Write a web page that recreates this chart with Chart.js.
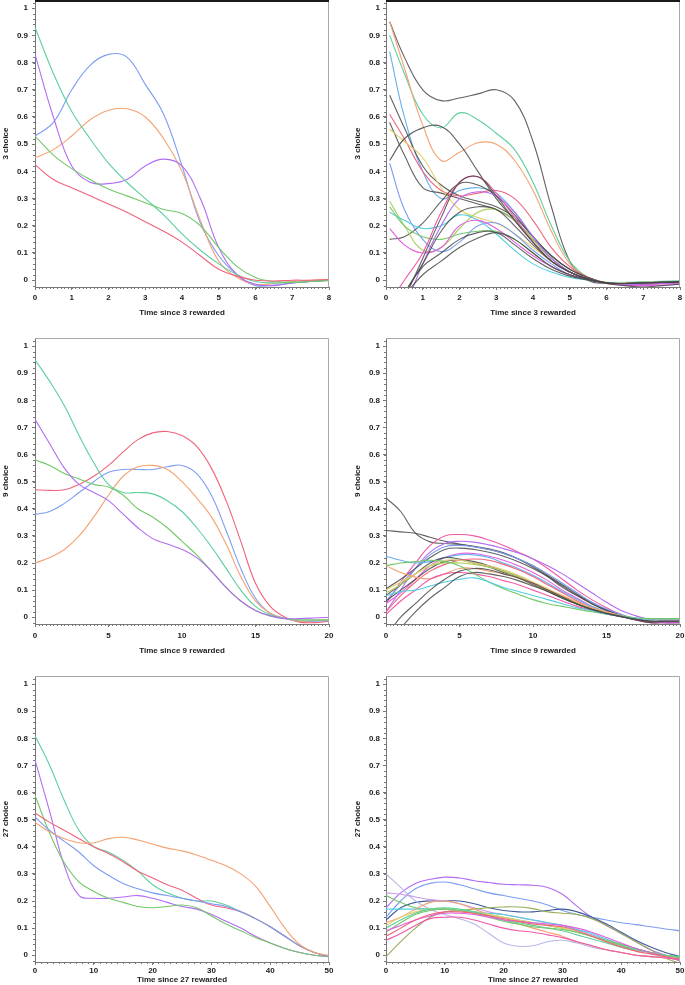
<!DOCTYPE html>
<html><head><meta charset="utf-8">
<script src="https://cdn.jsdelivr.net/npm/chart.js@4.4.0/dist/chart.umd.min.js"></script>
<style>
html,body{margin:0;padding:0;background:#fff;}
#wrap{position:relative;width:685px;height:985px;overflow:hidden;background:#fff;}
canvas{position:absolute;display:block;}
</style></head><body>
<div id="wrap">
<canvas id="c1" width="343" height="330" style="left:0;top:0"></canvas>
<canvas id="c2" width="342" height="330" style="left:343px;top:0"></canvas>
<canvas id="c3" width="343" height="330" style="left:0;top:330px"></canvas>
<canvas id="c4" width="342" height="330" style="left:343px;top:330px"></canvas>
<canvas id="c5" width="343" height="325" style="left:0;top:660px"></canvas>
<canvas id="c6" width="342" height="325" style="left:343px;top:660px"></canvas>
</div>
<script>
// ---------- x positions ----------
const x3  = [0,0.5,1,1.5,2,2.5,3,3.5,4,4.5,5,5.5,6,6.5,7,7.5,8];
const x3r = [0.1,0.5,1,1.5,2,2.5,3,3.5,4,4.5,5,5.5,6,6.5,7,7.5,8];
const x9  = [0,1,2,3,4,5,6,7,8,9,10,11,12,13,14,15,16,17,18,19,20];
const x27 = [0,2.5,5,7.5,10,12.5,15,17.5,20,22.5,25,27.5,30,32.5,35,37.5,40,42.5,45,47.5,50];

// ---------- tick labels ----------
const yTicks = [0,0.1,0.2,0.3,0.4,0.5,0.6,0.7,0.8,0.9,1];
const xTicks3 = [0,1,2,3,4,5,6,7,8];
const xTicks9 = [0,5,10,15,20];
const xTicks27 = [0,10,20,30,40,50];

// ---------- panel 1: 3 choice (group means) ----------
const g3Blue   = [0.53,0.58,0.70,0.79,0.83,0.82,0.72,0.61,0.42,0.21,0.09,0.02,-0.02,-0.018,-0.01,-0.005,0];
const g3Orange = [0.45,0.48,0.53,0.59,0.625,0.63,0.60,0.52,0.40,0.22,0.07,0.01,-0.015,-0.012,-0.005,0,0.002];
const g3Purple = [0.83,0.60,0.42,0.36,0.355,0.37,0.42,0.445,0.42,0.30,0.12,0.02,-0.015,-0.02,-0.01,-0.005,0];
const g3Teal   = [0.93,0.76,0.62,0.52,0.43,0.36,0.30,0.24,0.17,0.11,0.06,0.02,-0.005,-0.01,-0.008,-0.004,0];
const g3Green  = [0.53,0.46,0.41,0.37,0.335,0.31,0.285,0.26,0.245,0.20,0.12,0.05,0.01,-0.005,-0.008,-0.005,-0.002];
const g3Red    = [0.425,0.37,0.34,0.31,0.28,0.25,0.215,0.18,0.14,0.09,0.04,0.015,0,-0.003,0,0,0.003];

// ---------- panel 2: 3 choice (individuals) ----------
const i3GrayTop  = [0.95,0.82,0.70,0.66,0.67,0.685,0.70,0.66,0.51,0.27,0.07,0.00,-0.012,-0.012,-0.01,-0.007,-0.004];
const i3Teal     = [0.90,0.76,0.61,0.56,0.615,0.59,0.54,0.48,0.36,0.20,0.07,0.01,-0.008,-0.008,-0.006,-0.004,-0.002];
const i3Orange   = [0.95,0.78,0.57,0.44,0.47,0.505,0.50,0.44,0.33,0.18,0.06,0.01,-0.012,-0.014,-0.01,-0.008,-0.005];
const i3Sky      = [0.84,0.60,0.40,0.30,0.33,0.34,0.32,0.25,0.16,0.08,0.03,0.005,-0.01,-0.01,-0.008,-0.006,-0.004];
const i3GrayA    = [0.68,0.56,0.42,0.35,0.31,0.29,0.27,0.23,0.16,0.09,0.04,0.01,-0.01,-0.014,-0.012,-0.01,-0.008];
const i3Red      = [0.61,0.52,0.40,0.33,0.31,0.32,0.33,0.30,0.22,0.12,0.05,0.01,-0.01,-0.015,-0.015,-0.012,-0.01];
const i3GrayB    = [0.58,0.46,0.34,0.32,0.30,0.28,0.26,0.22,0.15,0.08,0.03,0.005,-0.01,-0.012,-0.01,-0.008,-0.006];
const i3Yellow   = [0.555,0.51,0.45,0.34,0.26,0.23,0.21,0.17,0.12,0.07,0.03,0.005,-0.008,-0.01,-0.008,-0.006,-0.004];
const i3GrayRise = [0.44,0.52,0.56,0.565,0.50,0.40,0.30,0.22,0.14,0.07,0.03,0.005,-0.01,-0.012,-0.01,-0.008,-0.006];
const i3Blue     = [0.43,0.26,0.15,0.105,0.14,0.20,0.21,0.17,0.11,0.06,0.02,0.003,-0.01,-0.012,-0.01,-0.008,-0.005];
const i3GrayFlat = [0.15,0.16,0.21,0.29,0.355,0.35,0.31,0.24,0.16,0.09,0.04,0.01,-0.01,-0.012,-0.01,-0.008,-0.006];
const i3Lime     = [0.29,0.20,0.11,0.12,0.19,0.25,0.26,0.22,0.15,0.08,0.03,0.005,-0.01,-0.012,-0.01,-0.008,-0.006];
const i3Cyan     = [0.25,0.22,0.19,0.20,0.24,0.22,0.17,0.11,0.06,0.03,0.01,0.0,-0.01,-0.012,-0.01,-0.008,-0.006];
const i3Green    = [0.27,0.20,0.16,0.15,0.17,0.18,0.18,0.15,0.10,0.05,0.02,0.003,-0.01,-0.012,-0.01,-0.008,-0.006];
const i3Magenta  = [0.19,0.13,0.10,0.12,0.20,0.22,0.19,0.14,0.09,0.05,0.02,0.003,-0.012,-0.018,-0.02,-0.018,-0.015];
const i3Pink     = [-0.08,0.0,0.10,0.25,0.36,0.38,0.32,0.23,0.14,0.07,0.03,0.005,-0.01,-0.015,-0.015,-0.012,-0.01];
const i3Purple   = [-0.2,-0.1,0.06,0.20,0.30,0.325,0.31,0.25,0.16,0.08,0.03,0.005,-0.01,-0.015,-0.015,-0.012,-0.01];
const i3GrayC    = [-0.2,-0.07,0.08,0.23,0.36,0.38,0.31,0.22,0.14,0.07,0.03,0.005,-0.01,-0.012,-0.01,-0.008,-0.006];
const i3GrayD    = [-0.15,-0.05,0.06,0.18,0.25,0.27,0.26,0.20,0.13,0.07,0.03,0.005,-0.01,-0.012,-0.01,-0.008,-0.006];
const i3GrayE    = [-0.15,-0.06,0.02,0.07,0.12,0.155,0.175,0.15,0.10,0.05,0.02,0.003,-0.01,-0.012,-0.01,-0.008,-0.006];
const i3GrayF    = [-0.18,-0.05,0.05,0.10,0.15,0.175,0.175,0.13,0.08,0.04,0.015,0.0,-0.012,-0.02,-0.025,-0.02,-0.015];

// ---------- panel 3: 9 choice (group means) ----------
const g9Red    = [0.47,0.468,0.47,0.49,0.52,0.56,0.61,0.655,0.68,0.685,0.67,0.63,0.55,0.43,0.28,0.125,0.04,0.0,-0.018,-0.02,-0.015];
const g9Blue   = [0.38,0.39,0.42,0.46,0.50,0.535,0.545,0.545,0.545,0.555,0.56,0.53,0.45,0.32,0.18,0.07,0.015,-0.005,-0.015,-0.015,-0.012];
const g9Orange = [0.20,0.22,0.25,0.30,0.37,0.45,0.52,0.555,0.56,0.545,0.50,0.44,0.37,0.27,0.15,0.06,0.015,-0.005,-0.015,-0.012,-0.01];
const g9Teal   = [0.95,0.87,0.78,0.67,0.57,0.49,0.46,0.46,0.455,0.43,0.39,0.33,0.26,0.18,0.10,0.04,0.01,-0.005,-0.01,-0.01,-0.01];
const g9Green  = [0.58,0.56,0.53,0.51,0.49,0.48,0.45,0.40,0.37,0.33,0.28,0.23,0.17,0.11,0.06,0.025,0.005,-0.005,-0.01,-0.01,-0.01];
const g9Purple = [0.73,0.64,0.55,0.49,0.46,0.43,0.38,0.33,0.29,0.27,0.25,0.22,0.17,0.11,0.06,0.025,0.005,-0.005,-0.005,-0.003,0.0];

// ---------- panel 4: 9 choice (individuals) ----------
const i9GrayTop = [0.44,0.39,0.31,0.278,0.272,0.268,0.262,0.252,0.238,0.215,0.185,0.15,0.11,0.08,0.05,0.025,0.005,-0.01,-0.015,-0.015,-0.015];
const i9GrayB   = [0.32,0.315,0.31,0.295,0.28,0.27,0.26,0.25,0.235,0.215,0.19,0.155,0.12,0.085,0.055,0.028,0.008,-0.008,-0.015,-0.015,-0.015];
const i9Pink    = [0.05,0.13,0.20,0.265,0.30,0.305,0.30,0.285,0.265,0.24,0.215,0.18,0.14,0.10,0.065,0.035,0.01,-0.01,-0.02,-0.02,-0.02];
const i9Purple  = [0.02,0.10,0.18,0.24,0.272,0.28,0.277,0.267,0.253,0.237,0.215,0.19,0.16,0.125,0.09,0.055,0.025,0.005,-0.01,-0.02,-0.02];
const i9Sky     = [0.225,0.21,0.20,0.205,0.22,0.23,0.23,0.22,0.20,0.18,0.155,0.125,0.095,0.065,0.04,0.02,0.005,-0.005,-0.01,-0.012,-0.012];
const i9Orange  = [0.19,0.165,0.148,0.142,0.16,0.18,0.18,0.17,0.16,0.145,0.125,0.10,0.08,0.055,0.035,0.02,0.005,-0.005,-0.01,-0.01,-0.01];
const i9Green   = [0.19,0.20,0.205,0.21,0.205,0.19,0.16,0.13,0.105,0.085,0.065,0.05,0.04,0.03,0.02,0.012,0.005,-0.002,-0.005,-0.005,-0.005];
const i9Cyan    = [0.08,0.095,0.10,0.115,0.13,0.14,0.145,0.13,0.11,0.095,0.08,0.065,0.05,0.035,0.025,0.012,0.003,-0.005,-0.01,-0.01,-0.01];
const i9GrayC   = [0.105,0.14,0.18,0.22,0.25,0.255,0.25,0.24,0.225,0.205,0.18,0.15,0.115,0.08,0.05,0.025,0.005,-0.01,-0.02,-0.02,-0.02];
const i9GrayD   = [0.08,0.12,0.16,0.20,0.22,0.215,0.205,0.19,0.17,0.15,0.125,0.10,0.075,0.05,0.03,0.015,0.003,-0.008,-0.015,-0.015,-0.015];
const i9GrayE   = [0.06,0.10,0.14,0.18,0.205,0.21,0.20,0.185,0.165,0.145,0.12,0.095,0.07,0.048,0.028,0.013,0.002,-0.008,-0.015,-0.015,-0.015];
const i9GrayF   = [-0.07,0.0,0.05,0.10,0.14,0.17,0.18,0.175,0.16,0.145,0.125,0.10,0.075,0.05,0.03,0.015,0.003,-0.008,-0.015,-0.015,-0.015];
const i9GrayG   = [-0.1,-0.04,0.02,0.07,0.11,0.15,0.165,0.16,0.15,0.135,0.115,0.095,0.07,0.048,0.028,0.013,0.002,-0.008,-0.015,-0.015,-0.015];
const i9PinkLow = [0.01,0.06,0.10,0.14,0.16,0.165,0.16,0.15,0.135,0.12,0.10,0.08,0.06,0.04,0.025,0.012,0.003,-0.005,-0.01,-0.01,-0.01];
const i9Red     = [0.02,0.08,0.13,0.17,0.195,0.21,0.215,0.21,0.195,0.175,0.15,0.12,0.09,0.06,0.035,0.015,0.003,-0.008,-0.015,-0.015,-0.015];
const i9Blue    = [0.06,0.12,0.18,0.23,0.26,0.265,0.26,0.25,0.235,0.215,0.19,0.16,0.125,0.09,0.055,0.03,0.01,-0.005,-0.015,-0.015,-0.015];
const i9Yellow  = [0.10,0.13,0.16,0.19,0.21,0.21,0.20,0.19,0.175,0.155,0.13,0.105,0.08,0.055,0.035,0.018,0.005,-0.005,-0.01,-0.01,-0.01];
const i9Lime    = [0.09,0.12,0.16,0.19,0.20,0.20,0.195,0.185,0.17,0.15,0.125,0.10,0.075,0.05,0.03,0.015,0.003,-0.005,-0.008,-0.008,-0.008];
const i9Magenta = [0.05,0.09,0.14,0.19,0.22,0.235,0.235,0.225,0.21,0.19,0.165,0.135,0.10,0.07,0.04,0.02,0.005,-0.008,-0.015,-0.018,-0.018];

// ---------- panel 5: 27 choice (group means) ----------
const g27Teal   = [0.81,0.70,0.57,0.46,0.40,0.38,0.35,0.31,0.26,0.23,0.21,0.20,0.20,0.185,0.16,0.135,0.105,0.07,0.035,0.01,-0.005];
const g27Purple = [0.72,0.53,0.33,0.22,0.21,0.21,0.215,0.22,0.21,0.195,0.18,0.17,0.15,0.125,0.10,0.07,0.045,0.025,0.01,0.0,-0.005];
const g27Green  = [0.59,0.45,0.34,0.27,0.235,0.21,0.195,0.18,0.175,0.18,0.185,0.175,0.145,0.115,0.09,0.065,0.045,0.025,0.01,0.0,-0.005];
const g27Red    = [0.525,0.49,0.46,0.43,0.40,0.375,0.345,0.31,0.285,0.26,0.24,0.21,0.185,0.175,0.16,0.135,0.105,0.07,0.035,0.01,-0.005];
const g27Blue   = [0.51,0.46,0.42,0.38,0.33,0.295,0.265,0.245,0.23,0.22,0.21,0.20,0.19,0.18,0.16,0.135,0.105,0.07,0.035,0.01,-0.005];
const g27Orange = [0.49,0.455,0.43,0.415,0.415,0.43,0.435,0.425,0.41,0.395,0.385,0.37,0.35,0.33,0.30,0.255,0.18,0.10,0.04,0.01,0.0];

// ---------- panel 6: 27 choice (individuals) ----------
const i27Purple   = [0.175,0.23,0.265,0.28,0.288,0.285,0.275,0.268,0.262,0.26,0.258,0.25,0.225,0.18,0.14,0.11,0.08,0.05,0.02,0.0,-0.02];
const i27Blue     = [0.14,0.20,0.245,0.265,0.27,0.26,0.245,0.23,0.22,0.21,0.20,0.185,0.165,0.15,0.14,0.13,0.12,0.113,0.105,0.097,0.09];
const i27Lavender = [0.30,0.25,0.20,0.17,0.15,0.135,0.115,0.08,0.045,0.033,0.035,0.05,0.055,0.045,0.03,0.02,0.01,0.0,-0.005,-0.005,-0.005];
const i27Lilac    = [0.23,0.225,0.215,0.205,0.20,0.19,0.175,0.16,0.15,0.14,0.13,0.12,0.11,0.095,0.075,0.055,0.035,0.02,0.01,0.0,-0.01];
const i27Green    = [0.22,0.195,0.175,0.17,0.17,0.165,0.16,0.15,0.14,0.13,0.12,0.11,0.10,0.085,0.07,0.05,0.035,0.02,0.01,0.0,-0.01];
const i27Cyan     = [0.17,0.17,0.17,0.17,0.17,0.165,0.16,0.155,0.15,0.14,0.13,0.12,0.11,0.095,0.08,0.06,0.04,0.025,0.01,0.0,-0.01];
const i27Navy     = [0.13,0.175,0.195,0.20,0.20,0.20,0.19,0.175,0.165,0.16,0.16,0.165,0.17,0.16,0.14,0.115,0.085,0.055,0.03,0.01,-0.005];
const i27Olive    = [-0.005,0.05,0.10,0.14,0.16,0.165,0.17,0.175,0.178,0.178,0.172,0.16,0.155,0.15,0.135,0.11,0.08,0.05,0.02,-0.01,-0.03];
const i27Orange   = [0.12,0.14,0.17,0.195,0.20,0.19,0.17,0.15,0.13,0.115,0.10,0.085,0.07,0.05,0.035,0.02,0.01,0.0,-0.005,-0.01,-0.015];
const i27Pink     = [0.055,0.08,0.11,0.135,0.14,0.14,0.13,0.115,0.10,0.09,0.085,0.075,0.065,0.05,0.035,0.02,0.01,0.0,-0.005,-0.01,-0.015];
const i27Red      = [0.07,0.10,0.13,0.15,0.16,0.16,0.155,0.145,0.135,0.125,0.115,0.11,0.105,0.09,0.07,0.05,0.03,0.015,0.005,-0.005,-0.015];
const i27Teal     = [0.10,0.13,0.155,0.17,0.175,0.17,0.16,0.145,0.13,0.12,0.11,0.10,0.09,0.075,0.06,0.045,0.03,0.02,0.01,0.0,-0.005];
const i27Green2   = [0.085,0.12,0.15,0.165,0.17,0.165,0.155,0.14,0.125,0.115,0.105,0.10,0.095,0.085,0.07,0.055,0.04,0.025,0.01,0.0,-0.01];
const i27Magenta  = [0.09,0.11,0.13,0.145,0.155,0.155,0.15,0.14,0.13,0.125,0.12,0.115,0.11,0.10,0.085,0.065,0.045,0.025,0.01,-0.005,-0.02];
const i27Yellow   = [0.11,0.14,0.16,0.17,0.17,0.165,0.16,0.15,0.14,0.13,0.12,0.11,0.10,0.085,0.07,0.05,0.03,0.015,0.005,-0.005,-0.01];

// ---------- colours ----------
const C = {blue:'#7c9df2', orange:'#f5a272', purple:'#b26cf2', teal:'#5ccf9c', green:'#72c86a', red:'#f0637c',
  gray:'rgba(70,70,70,0.85)', sky:'#66b0f0', yellow:'#e3cf6e', lime:'#a9cf5c', cyan:'#52cfe0', magenta:'#e25fe0',
  pink:'#f25aa8', navy:'#3f5a9a', lavender:'#b8b8e6', lilac:'#c79be8', olive:'#9aae5a'};

const framePlugin = {
  id:'frame',
  afterDraw(chart, args, o){
    const {ctx, chartArea:a, scales:{x,y}} = chart;
    ctx.save();
    ctx.strokeStyle = '#777'; ctx.lineWidth = 1;
    ctx.beginPath();
    for (let k = -1; k <= 51; k++) {
      const v = k*0.02; if (v < y.min || v > y.max) continue;
      const p = Math.round(y.getPixelForValue(v)) + 0.5;
      ctx.moveTo(a.left-2, p); ctx.lineTo(a.left, p);
    }
    const n = Math.round((x.max - x.min)/o.xMinor);
    for (let k = 0; k <= n; k++) {
      const p = Math.round(x.getPixelForValue(x.min + k*o.xMinor)) + 0.5;
      ctx.moveTo(p, a.bottom); ctx.lineTo(p, a.bottom+2);
    }
    ctx.stroke();
    ctx.strokeStyle = '#a8a8a8';
    ctx.beginPath();
    ctx.moveTo(a.left, a.top+0.5); ctx.lineTo(a.right-0.5, a.top+0.5); ctx.lineTo(a.right-0.5, a.bottom);
    ctx.stroke();
    if (o.topDark) {
      ctx.strokeStyle = '#1a1a1a'; ctx.lineWidth = 2;
      ctx.beginPath(); ctx.moveTo(a.left, a.top+1); ctx.lineTo(a.right, a.top+1); ctx.stroke();
    }
    ctx.restore();
  }
};

const FONT = 'Liberation Sans, Arial, sans-serif';
const fmt = v => String(Math.round(v*100)/100);

function panel(id, xs, series, p) {
  const datasets = series.map(([ys, col]) => ({
    data: xs.map((x,i) => ({x, y: ys[i]})),
    borderColor: col, borderWidth: 1.1, pointRadius: 0, fill: false,
    tension: 0.4
  }));
  new Chart(document.getElementById(id), {
    type: 'line',
    data: { datasets },
    plugins: [framePlugin],
    options: {
      responsive: false, animation: false, events: [],
      layout: { padding: { left: 0, right: p.padRight, top: p.padTop, bottom: 0 } },
      plugins: { legend: {display:false}, tooltip: {enabled:false}, frame: {xMinor: p.xMinor, topDark: p.topDark} },
      scales: {
        x: {
          type: 'linear', min: p.xTicks[0], max: p.xTicks[p.xTicks.length-1],
          afterBuildTicks: s => { s.ticks = p.xTicks.map(v => ({value: v})); },
          afterFit: s => { s.height = p.xHeight; s.paddingLeft = 0; s.paddingRight = 0; },
          grid: { drawOnChartArea: false, drawTicks: true, tickLength: 3, tickColor: '#777' },
          border: { display: true, color: '#777', width: 1 },
          ticks: { font: {family: FONT, size: 8, weight: 'bold'}, color: '#222', padding: p.xTickPad, maxRotation: 0, autoSkip: false, callback: fmt },
          title: { display: true, text: p.xTitle, font: {family: FONT, size: 8, weight: 'bold'}, color: '#222', padding: {top: 0, bottom: p.xTitlePad} }
        },
        y: {
          type: 'linear', min: -0.025, max: 1.03,
          afterBuildTicks: s => { s.ticks = yTicks.map(v => ({value: v})); },
          afterFit: s => { s.width = p.yWidth; s.paddingTop = 0; s.paddingBottom = 0; },
          grid: { drawOnChartArea: false, drawTicks: true, tickLength: 3, tickColor: '#777' },
          border: { display: true, color: '#777', width: 1 },
          ticks: { font: {family: FONT, size: 8, weight: 'bold'}, color: '#222', padding: p.yTickPad, autoSkip: false, callback: fmt },
          title: { display: true, text: p.yTitle, font: {family: FONT, size: 8, weight: 'bold'}, color: '#222', padding: {top: p.yTitlePad, bottom: 0} }
        }
      }
    }
  });
}

panel('c1', x3, [[g3Red,C.red],[g3Green,C.green],[g3Teal,C.teal],[g3Purple,C.purple],[g3Orange,C.orange],[g3Blue,C.blue]],
  {xTicks: xTicks3, xMinor: 0.1, xTitle: 'Time since 3 rewarded', yTitle: '3 choice', yWidth: 35, padRight: 14, padTop: 0, xHeight: 43, xTickPad: 3, xTitlePad: 12, yTickPad: 4, yTitlePad: 1, topDark: true});

panel('c2', x3r, [
  [i3GrayF,C.gray],[i3GrayE,C.gray],[i3GrayD,C.gray],[i3GrayC,C.gray],[i3Purple,C.purple],[i3Pink,C.pink],
  [i3Magenta,C.magenta],[i3Green,C.green],[i3Cyan,C.cyan],[i3Lime,C.lime],[i3GrayFlat,C.gray],[i3Blue,C.blue],
  [i3GrayRise,C.gray],[i3Yellow,C.yellow],[i3GrayB,C.gray],[i3Red,C.red],[i3GrayA,C.gray],[i3Sky,C.sky],
  [i3Orange,C.orange],[i3Teal,C.teal],[i3GrayTop,C.gray]],
  {xTicks: xTicks3, xMinor: 0.1, xTitle: 'Time since 3 rewarded', yTitle: '3 choice', yWidth: 43, padRight: 5, padTop: 0, xHeight: 43, xTickPad: 3, xTitlePad: 12, yTickPad: 3, yTitlePad: 10, topDark: true});

panel('c3', x9, [[g9Purple,C.purple],[g9Green,C.green],[g9Teal,C.teal],[g9Orange,C.orange],[g9Blue,C.blue],[g9Red,C.red]],
  {xTicks: xTicks9, xMinor: 0.25, xTitle: 'Time since 9 rewarded', yTitle: '9 choice', yWidth: 35, padRight: 14, padTop: 8, xHeight: 36, xTickPad: 4, xTitlePad: 4, yTickPad: 4, yTitlePad: 1, topDark: false});

panel('c4', x9, [
  [i9GrayG,C.gray],[i9GrayF,C.gray],[i9Cyan,C.cyan],[i9Green,C.green],[i9PinkLow,C.pink],[i9Orange,C.orange],
  [i9Yellow,C.yellow],[i9Lime,C.lime],[i9Red,C.red],[i9GrayE,C.gray],[i9GrayD,C.gray],[i9Sky,C.sky],
  [i9Magenta,C.magenta],[i9GrayC,C.gray],[i9Blue,C.blue],[i9Purple,C.purple],[i9Pink,C.pink],
  [i9GrayB,C.gray],[i9GrayTop,C.gray]],
  {xTicks: xTicks9, xMinor: 0.25, xTitle: 'Time since 9 rewarded', yTitle: '9 choice', yWidth: 43, padRight: 5, padTop: 8, xHeight: 36, xTickPad: 4, xTitlePad: 4, yTickPad: 3, yTitlePad: 10, topDark: false});

panel('c5', x27, [[g27Orange,C.orange],[g27Blue,C.blue],[g27Red,C.red],[g27Green,C.green],[g27Purple,C.purple],[g27Teal,C.teal]],
  {xTicks: xTicks27, xMinor: 1, xTitle: 'Time since 27 rewarded', yTitle: '27 choice', yWidth: 35, padRight: 14, padTop: 16, xHeight: 23, xTickPad: 1, xTitlePad: 0, yTickPad: 4, yTitlePad: 1, topDark: false});

panel('c6', x27, [
  [i27Pink,C.pink],[i27Red,C.red],[i27Magenta,C.magenta],[i27Green2,C.green],[i27Teal,C.teal],[i27Yellow,C.yellow],
  [i27Orange,C.orange],[i27Olive,C.olive],[i27Cyan,C.cyan],[i27Green,C.green],[i27Lilac,C.lilac],[i27Lavender,C.lavender],
  [i27Navy,C.navy],[i27Blue,C.blue],[i27Purple,C.purple]],
  {xTicks: xTicks27, xMinor: 1, xTitle: 'Time since 27 rewarded', yTitle: '27 choice', yWidth: 43, padRight: 5, padTop: 16, xHeight: 23, xTickPad: 1, xTitlePad: 0, yTickPad: 3, yTitlePad: 10, topDark: false});
</script>
</body></html>
